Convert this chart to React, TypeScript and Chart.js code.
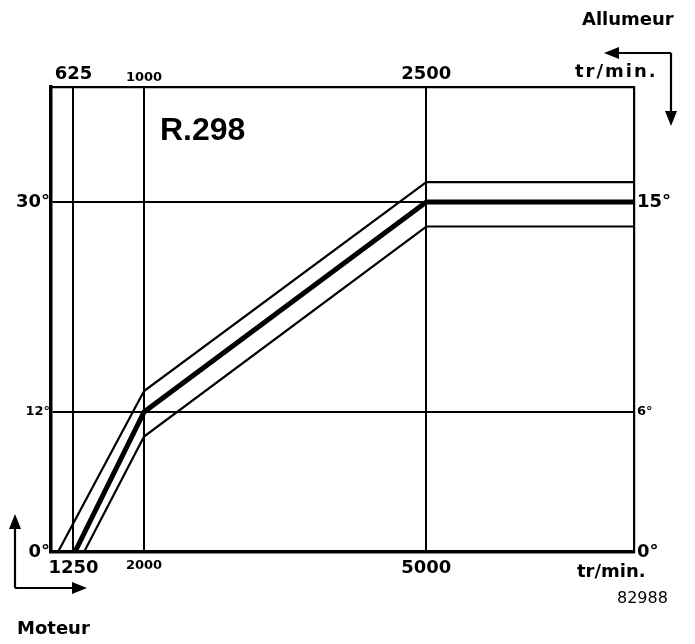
import React, { useEffect, useRef } from "react";
import { Chart, registerables } from "chart.js";

Chart.register(...registerables);

// Moteur speed (tr/min) and allumeur speed (half of it) ticks
const engineRpmTicks = [1250, 2000, 5000];
const distributorRpmTicks = [625, 1000, 2500];
// Advance in degrees: engine (left) and distributor (right, half of it)
const engineAdvanceTicks = [0, 12, 30];
const distributorAdvanceTicks = [0, 6, 15];

// Axis extents
const RPM_MIN = 1011;
const RPM_MAX = 7207;
const DEG_MAX = 39.86;

// Nominal advance curve
const nominalRpm = [1265, 2000, 5000, RPM_MAX];
const nominalDeg = [0, 12, 30, 30];
// Upper tolerance
const upperRpm = [1085, 2000, 5000, RPM_MAX];
const upperDeg = [0, 13.8, 31.7, 31.7];
// Lower tolerance
const lowerRpm = [1362, 2000, 5000, RPM_MAX];
const lowerDeg = [0, 9.9, 27.9, 27.9];

const W = 695;
const H = 644;
const SANS = "'DejaVu Sans', sans-serif";

const toPoints = (xs: number[], ys: number[]) => xs.map((x, i) => ({ x, y: ys[i] }));

// The middle tick of every axis is printed in a smaller size
const tickFont = (ctx: any) =>
  ctx.index === 1
    ? { family: SANS, size: 13, weight: "bold" as const }
    : { family: SANS, size: 18, weight: "bold" as const };

function arrow(ctx: CanvasRenderingContext2D, x1: number, y1: number, x2: number, y2: number) {
  const ang = Math.atan2(y2 - y1, x2 - x1);
  const len = 15;
  const half = 6;
  const bx = x2 - len * Math.cos(ang);
  const by = y2 - len * Math.sin(ang);
  ctx.beginPath();
  ctx.moveTo(x1, y1);
  ctx.lineTo(bx, by);
  ctx.stroke();
  ctx.beginPath();
  ctx.moveTo(x2, y2);
  ctx.lineTo(bx + half * Math.sin(ang), by - half * Math.cos(ang));
  ctx.lineTo(bx - half * Math.sin(ang), by + half * Math.cos(ang));
  ctx.closePath();
  ctx.fill();
}

const annotations = {
  id: "annotations",
  afterDraw(chart: Chart) {
    const ctx = chart.ctx;
    const a = chart.chartArea;
    ctx.save();
    ctx.fillStyle = "#000";
    ctx.strokeStyle = "#000";
    ctx.textBaseline = "alphabetic";
    ctx.textAlign = "left";

    // Curve reference
    ctx.font = "bold 32px 'Liberation Sans', Arial, sans-serif";
    ctx.fillText("R.298", a.left + 109, a.top + 53);

    // Axis titles
    ctx.font = `bold 18px ${SANS}`;
    ctx.fillText("Allumeur", 582, 25);
    ctx.fillText("Moteur", 17, 634);
    ctx.fillText("tr/min.", a.right - 57, a.bottom + 25);
    (ctx as any).letterSpacing = "2px";
    ctx.fillText("tr/min.", a.right - 59, a.top - 10);
    (ctx as any).letterSpacing = "0px";

    ctx.font = `16px ${SANS}`;
    ctx.fillText("82988", a.right - 17, a.bottom + 51);

    // Direction arrows
    ctx.lineWidth = 2.2;
    arrow(ctx, 671, 53, 604, 53);
    arrow(ctx, 671, 53, 671, 126);
    arrow(ctx, 15, 588, 15, 514);
    arrow(ctx, 15, 588, 87, 588);
    ctx.restore();
  },
};

export default function App() {
  const ref = useRef<HTMLCanvasElement | null>(null);

  useEffect(() => {
    if (!ref.current) return;
    const line = (xs: number[], ys: number[], width: number) => ({
      data: toPoints(xs, ys),
      borderColor: "#000",
      backgroundColor: "#000",
      borderWidth: width,
      pointRadius: 0,
      tension: 0,
      fill: false,
      xAxisID: "x",
      yAxisID: "y",
    });

    const chart = new Chart(ref.current, {
      type: "line",
      data: {
        datasets: [
          line(upperRpm, upperDeg, 2.2),
          line(lowerRpm, lowerDeg, 2.2),
          line(nominalRpm, nominalDeg, 5),
        ],
      },
      plugins: [annotations],
      options: {
        responsive: false,
        animation: false,
        layout: { padding: 0 },
        plugins: { legend: { display: false }, tooltip: { enabled: false } },
        scales: {
          x: {
            type: "linear",
            position: "bottom",
            min: RPM_MIN,
            max: RPM_MAX,
            afterBuildTicks: (s: any) => {
              s.ticks = engineRpmTicks.map((value) => ({ value }));
            },
            afterFit: (s: any) => {
              s.height = H - 552;
            },
            grid: { color: "#000", lineWidth: 2, drawTicks: false },
            border: { color: "#000", width: 3.5 },
            ticks: {
              color: "#000",
              padding: 6,
              autoSkip: false,
              maxRotation: 0,
              font: tickFont,
              callback: (v: any) => String(v),
            },
          },
          x2: {
            type: "linear",
            position: "top",
            min: RPM_MIN / 2,
            max: RPM_MAX / 2,
            afterBuildTicks: (s: any) => {
              s.ticks = distributorRpmTicks.map((value) => ({ value }));
            },
            afterFit: (s: any) => {
              s.height = 87;
            },
            grid: { display: false, drawTicks: false },
            border: { color: "#000", width: 2.2 },
            ticks: {
              color: "#000",
              padding: 2,
              autoSkip: false,
              maxRotation: 0,
              font: tickFont,
              callback: (v: any) => String(v),
            },
          },
          y: {
            type: "linear",
            position: "left",
            min: 0,
            max: DEG_MAX,
            afterBuildTicks: (s: any) => {
              s.ticks = engineAdvanceTicks.map((value) => ({ value }));
            },
            afterFit: (s: any) => {
              s.width = 51;
            },
            grid: { color: "#000", lineWidth: 2, drawTicks: false },
            border: { color: "#000", width: 3.5 },
            ticks: {
              color: "#000",
              padding: 1,
              autoSkip: false,
              font: tickFont,
              callback: (v: any) => `${v}°`,
            },
          },
          y2: {
            type: "linear",
            position: "right",
            min: 0,
            max: DEG_MAX / 2,
            afterBuildTicks: (s: any) => {
              s.ticks = distributorAdvanceTicks.map((value) => ({ value }));
            },
            afterFit: (s: any) => {
              s.width = W - 634;
            },
            grid: { display: false, drawTicks: false },
            border: { color: "#000", width: 2.2 },
            ticks: {
              color: "#000",
              padding: 3,
              autoSkip: false,
              font: tickFont,
              callback: (v: any) => `${v}°`,
            },
          },
        },
      },
    });
    return () => chart.destroy();
  }, []);

  return (
    <div style={{ position: "fixed", left: 0, top: 0, width: W, height: H, background: "#fff" }}>
      <canvas ref={ref} width={W} height={H} style={{ display: "block" }} />
    </div>
  );
}
